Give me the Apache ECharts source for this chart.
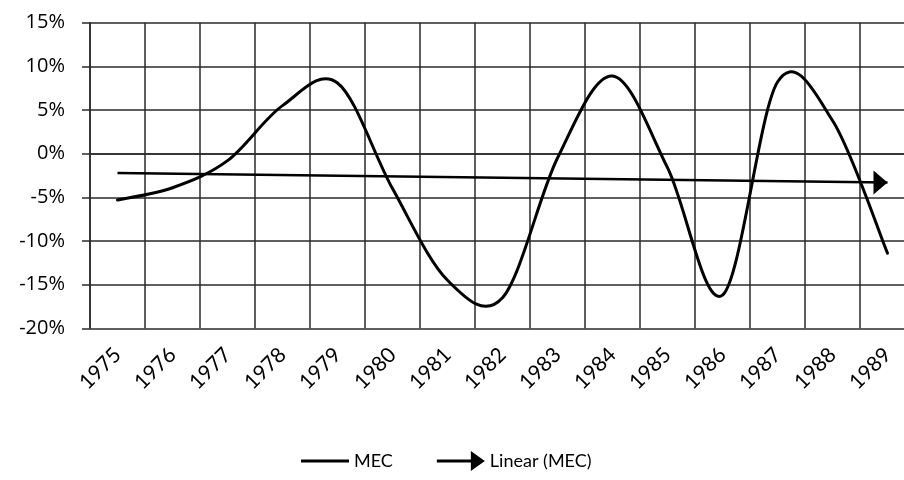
<!DOCTYPE html>
<html>
<head>
<meta charset="utf-8">
<title>MEC</title>
<script src="https://cdn.jsdelivr.net/npm/echarts@6/dist/echarts.min.js"></script>
<style>
  html, body { margin: 0; padding: 0; background: #fff; }
  #chart { width: 904px; height: 480px; }
</style>
</head>
<body>
<div id="chart"></div>
<script>
// chart data (percent)
const years = ['1975', '1976', '1977', '1978', '1979', '1980', '1981', '1982',
               '1983', '1984', '1985', '1986', '1987', '1988', '1989'];
const mecValues = [-5.3, -3.9, -0.8, 5.5, 8.1, -4.0, -14.5, -16.5,
                   -0.5, 8.9, -1.6, -16.2, 8.2, 3.8, -11.4];
// linear trend endpoints (first and last year)
const trendYears = ['1975', '1989'];
const trendValues = [-2.2, -3.3];
const yTicks = { min: -20, max: 15, step: 5 };

const font = 'Lato, "Open Sans", sans-serif';
const gridColor = '#2a2a2a';

const chart = echarts.init(document.getElementById('chart'), null, { renderer: 'canvas' });

// smoothed curve like the spreadsheet one: cubic bezier through every point,
// control points from the neighbours (1/6 rule), all positions via api.coord
function renderMec(params, api) {
    if (params.dataIndexInside !== 0) return;
    const n = params.dataInsideLength;
    const pts = [];
    for (let k = 0; k < n; k++) {
        pts.push(api.coord([api.value(0, k), api.value(1, k)]));
    }
    let d = 'M' + pts[0][0] + ',' + pts[0][1];
    for (let k = 0; k < n - 1; k++) {
        const p0 = pts[Math.max(k - 1, 0)];
        const p1 = pts[k];
        const p2 = pts[k + 1];
        const p3 = pts[Math.min(k + 2, n - 1)];
        const c1 = [p1[0] + (p2[0] - p0[0]) / 6, p1[1] + (p2[1] - p0[1]) / 6];
        const c2 = [p2[0] - (p3[0] - p1[0]) / 6, p2[1] - (p3[1] - p1[1]) / 6];
        d += ' C' + c1.join(',') + ' ' + c2.join(',') + ' ' + p2.join(',');
    }
    return {
        type: 'path',
        shape: { pathData: d },
        style: { fill: null, stroke: '#000', lineWidth: 3, lineJoin: 'round', lineCap: 'round' }
    };
}

const trendData = trendYears.map((y, i) => {
    const item = { value: [y, trendValues[i]] };
    if (i === trendYears.length - 1) {
        item.symbol = 'path://M0,0L14,12L0,24Z';
        item.symbolSize = [14, 24];
        item.symbolOffset = [-7, 0];
        item.symbolKeepAspect = false;
    }
    return item;
});

const option = {
    animation: false,
    backgroundColor: '#fff',
    textStyle: { fontFamily: font },
    grid: {
        left: 90,
        top: 22.7,
        width: 825,
        height: 305.6,
        outerBoundsMode: 'none',
        containLabel: false
    },
    legend: {
        left: 296,
        top: 446,
        itemWidth: 48,
        itemHeight: 20,
        itemGap: 44,
        symbolKeepAspect: true,
        textStyle: { fontFamily: font, fontSize: 18, color: '#000' },
        data: [
            { name: 'MEC', icon: 'path://M0,0H48V3H0Z' },
            { name: 'Linear (MEC)', icon: 'path://M0,8.5H34V0L48,10L34,20V11.5H0Z' }
        ]
    },
    xAxis: {
        type: 'category',
        data: years,
        boundaryGap: true,
        axisLine: { show: true, lineStyle: { color: gridColor, width: 1.5 } },
        axisTick: { show: false },
        splitLine: { show: true, lineStyle: { color: gridColor, width: 1.5 } },
        axisLabel: {
            interval: 0,
            rotate: 45,
            margin: 23,
            fontSize: 21,
            fontFamily: font,
            color: '#000'
        }
    },
    yAxis: {
        type: 'value',
        min: yTicks.min,
        max: yTicks.max,
        interval: yTicks.step,
        axisLine: { show: true, lineStyle: { color: gridColor, width: 1.5 } },
        axisTick: { show: true, length: 8, lineStyle: { color: gridColor, width: 1.5 } },
        splitLine: { show: true, lineStyle: { color: gridColor, width: 1.5 } },
        axisLabel: {
            formatter: '{value}%',
            margin: 25,
            fontSize: 20,
            fontFamily: '"Open Sans", sans-serif',
            color: '#000'
        }
    },
    series: [
        {
            name: 'MEC',
            type: 'custom',
            renderItem: renderMec,
            data: years.map((y, i) => [y, mecValues[i]]),
            encode: { x: 0, y: 1 },
            itemStyle: { color: '#000' },
            z: 3
        },
        {
            name: 'Linear (MEC)',
            type: 'line',
            data: trendData,
            symbol: 'none',
            showAllSymbol: true,
            color: '#000',
            itemStyle: { color: '#000' },
            lineStyle: { color: '#000', width: 2.5 },
            z: 4
        }
    ]
};

chart.setOption(option);
</script>
</body>
</html>
